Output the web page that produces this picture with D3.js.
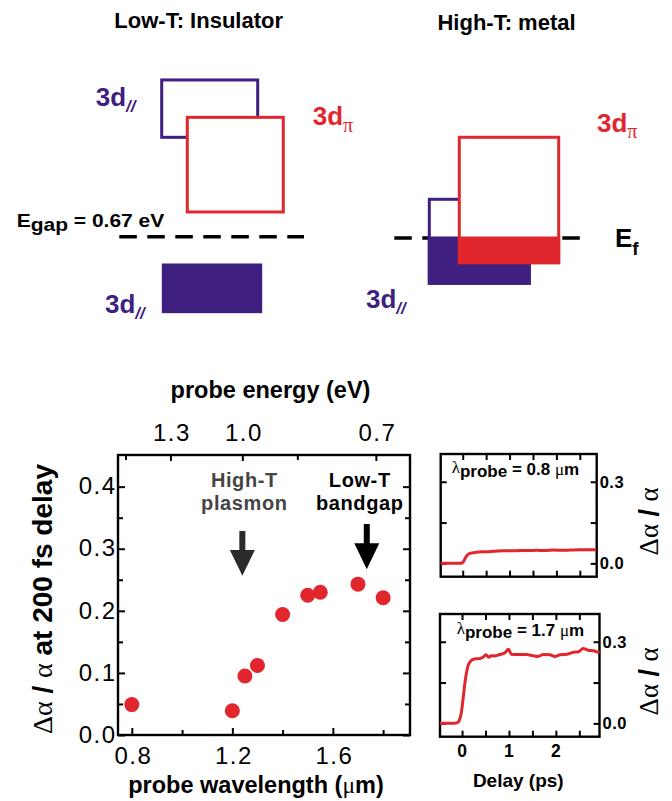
<!DOCTYPE html>
<html><head><meta charset="utf-8">
<script src="https://cdn.jsdelivr.net/npm/d3@7"></script>
<style>
body{margin:0;background:#fff}
svg{display:block}
text{font-family:"Liberation Sans",Arial,Helvetica,sans-serif}
.serif{font-family:"Liberation Serif","Times New Roman",serif;font-weight:normal}
</style>
</head><body>
<svg id="c" width="672" height="801"></svg>
<script>
// ---------------- DATA ----------------
// main scatter: probe wavelength (um) vs Δα/α at 200 fs
const wavelengths = [0.8, 1.2, 1.25, 1.3, 1.4, 1.5, 1.55, 1.7, 1.8];
const dAlpha200fs = [0.049, 0.039, 0.095, 0.112, 0.194, 0.225, 0.230, 0.243, 0.221];
const xTicksMain = [0.8, 1.2, 1.6];
const xMinorMain = [1.0, 1.4, 1.8];
const yTicksMain = [0.0, 0.1, 0.2, 0.3, 0.4];
const yMinorMain = [0.05, 0.15, 0.25, 0.35];
const energyTicks = [1.3, 1.0, 0.7];
const energyMinor = [1.6, 0.85];
// annotation arrows (wavelength, value top, head start, tip)
const arrowLambda = [1.2398, 1.735];
const arrowTop = [0.3285, 0.340];
const arrowHead = [0.298, 0.309];
const arrowTip = [0.2565, 0.267];
const annotLines = [["High-T", "plasmon"], ["Low-T", "bandgap"]];

// insets: delay (ps) vs Δα/α
const delay08 = [-0.47,-0.3,-0.15,-0.04,0.014,0.05,0.10,0.156,0.26,0.51,0.87,1.05,1.23,1.4,1.58,1.76,1.94,2.1,2.3,2.48,2.65,2.85];
const trace08 = [0.000,0.000,0.000,0.000,0.006,0.018,0.031,0.037,0.040,0.043,0.046,0.046,0.047,0.047,0.048,0.047,0.049,0.048,0.049,0.050,0.050,0.050];
const delay17 = [-0.47,-0.2,-0.095,-0.06,-0.02,0.014,0.05,0.085,0.12,0.17,0.26,0.37,0.44,0.51,0.57,0.62,0.69,0.80,0.91,0.99,1.05,1.16,1.37,1.51,1.62,1.73,1.87,1.98,2.09,2.23,2.37,2.48,2.58,2.69,2.80,2.93];
const trace17 = [0.000,0.000,0.003,0.010,0.035,0.078,0.133,0.177,0.207,0.226,0.237,0.238,0.242,0.252,0.243,0.249,0.248,0.253,0.259,0.272,0.254,0.253,0.253,0.249,0.246,0.253,0.252,0.246,0.252,0.254,0.261,0.263,0.275,0.269,0.267,0.259];
const delayTicks = [0, 1, 2];
const delayMinor = [0.5, 1.5, 2.5];
const insetYTicks = [0.0, 0.3];
const insetYMinor = [0.15];

// band diagram energies (eV, relative to reference level)
const lowTBandTop = [1.984, 1.511, -0.358];      // 3d// empty, 3dπ empty, 3d// filled
const lowTBandBottom = [1.258, 0.313, -0.949];
const highTBandTop = [0.49, 1.275];               // 3d//, 3dπ
const highTBandBottom = [-0.573, -0.313];

// ---------------- DRAW ----------------
const RED = "#e1262e", PURPLE = "#3f1f7f";
const svg = d3.select("#c");

// ===== Band diagram =====
svg.append("text").attr("x", 198.7).attr("y", 28.3).attr("text-anchor", "middle")
  .attr("font-weight", "bold").attr("font-size", 22).text("Low-T: Insulator");
svg.append("text").attr("x", 506.5).attr("y", 30).attr("text-anchor", "middle")
  .attr("font-weight", "bold").attr("font-size", 22).text("High-T: metal");

const eL = d3.scaleLinear().domain([0, 1]).range([236.7, 157.7]);
const eR = d3.scaleLinear().domain([0, 1]).range([238, 159]);

// dashed reference lines
svg.append("line").attr("x1", 119.3).attr("x2", 304).attr("y1", eL(0)).attr("y2", eL(0))
  .attr("stroke", "#000").attr("stroke-width", 3.5).attr("stroke-dasharray", "17.5,10.5");
svg.append("line").attr("x1", 394.3).attr("x2", 581).attr("y1", eR(0)).attr("y2", eR(0))
  .attr("stroke", "#000").attr("stroke-width", 3.5).attr("stroke-dasharray", "17.5,10.5");

// low-T bands
const lowX = [[161.7, 257.7], [187.3, 283.3], [163.3, 260.7]];
const lowStyle = [
  {stroke: PURPLE, fill: "#fff"}, {stroke: RED, fill: "#fff"}, {stroke: PURPLE, fill: PURPLE}];
lowTBandTop.forEach((t, i) => {
  svg.append("rect").attr("x", lowX[i][0]).attr("width", lowX[i][1] - lowX[i][0])
    .attr("y", eL(t)).attr("height", eL(lowTBandBottom[i]) - eL(t))
    .attr("fill", lowStyle[i].fill).attr("stroke", lowStyle[i].stroke).attr("stroke-width", 3);
});

// high-T bands (filled below reference level)
const highX = [[429.3, 529.3], [459.3, 558.7]];
const highCol = [PURPLE, RED];
highTBandTop.forEach((t, i) => {
  const x0 = highX[i][0], w = highX[i][1] - highX[i][0];
  svg.append("rect").attr("x", x0).attr("width", w)
    .attr("y", eR(t)).attr("height", eR(highTBandBottom[i]) - eR(t))
    .attr("fill", "#fff").attr("stroke", highCol[i]).attr("stroke-width", 3);
  svg.append("rect").attr("x", x0).attr("width", w)
    .attr("y", eR(0)).attr("height", eR(highTBandBottom[i]) - eR(0))
    .attr("fill", highCol[i]).attr("stroke", highCol[i]).attr("stroke-width", 3);
});

function bandLabel(x, y, color, sub, greek) {
  const t = svg.append("text").attr("x", x).attr("y", y).attr("fill", color)
    .attr("font-weight", "bold").attr("font-size", 26);
  t.append("tspan").text("3d");
  if (greek) t.append("tspan").attr("class", "serif").attr("font-size", 20).attr("dy", 6.5).text(sub);
  else t.append("tspan").attr("font-size", 17).attr("dy", 6).attr("font-style", "italic").text(sub);
}
bandLabel(95.7, 106, PURPLE, "//", false);
bandLabel(312.7, 125, RED, "π", true);
bandLabel(105, 313, PURPLE, "//", false);
bandLabel(597, 131.7, RED, "π", true);
bandLabel(366, 308.3, PURPLE, "//", false);

const ef = svg.append("text").attr("x", 615).attr("y", 246.7).attr("font-weight", "bold").attr("font-size", 26);
ef.append("tspan").text("E");
ef.append("tspan").attr("font-size", 19).attr("dy", 8).text("f");

const eg = svg.append("text").attr("transform", "translate(16.7,227) scale(1.2,1)")
  .attr("font-weight", "bold").attr("font-size", 17.5);
eg.append("tspan").text("E");
eg.append("tspan").attr("dy", 4).text("gap");
eg.append("tspan").attr("dy", -4).text(" = 0.67 eV");

// ===== Main scatter plot =====
const M = {l: 118, r: 410, t: 455, b: 735};
const x = d3.scaleLinear().domain([0.745, 1.907]).range([M.l, M.r]);
const y = d3.scaleLinear().domain([0, 0.451]).range([M.b, M.t]);
const f1 = d3.format(".1f");
const tickFont = g => g.selectAll("text").attr("font-size", 24).attr("fill", "#000")
  .attr("font-family", "'Liberation Sans',Arial,sans-serif").attr("letter-spacing", 1.5);

function styleAxis(g) {
  g.select(".domain").remove();
  g.selectAll("line").attr("stroke", "#000").attr("stroke-width", 2);
}
// bottom
svg.append("g").attr("transform", `translate(0,${M.b})`)
  .call(d3.axisBottom(x).tickValues(xTicksMain).tickSize(-7).tickFormat(f1))
  .call(styleAxis).call(tickFont)
  .call(g => g.selectAll("text").attr("y", 28.5).attr("dy", 0).attr("dx", 1));
svg.append("g").attr("transform", `translate(0,${M.b})`)
  .call(d3.axisBottom(x).tickValues(xMinorMain).tickSize(-5).tickFormat(""))
  .call(styleAxis);
// top (energy)
svg.append("g").attr("transform", `translate(0,${M.t})`)
  .call(d3.axisTop(x).tickValues(energyTicks.map(e => 1.2398 / e)).tickSize(-6)
    .tickFormat(l => f1(1.2398 / l)))
  .call(styleAxis).call(tickFont)
  .call(g => g.selectAll("text").attr("y", -14.3).attr("dy", 0).attr("dx", 1));
svg.append("g").attr("transform", `translate(0,${M.t})`)
  .call(d3.axisTop(x).tickValues(energyMinor.map(e => 1.2398 / e)).tickSize(-5).tickFormat(""))
  .call(styleAxis);
// left
svg.append("g").attr("transform", `translate(${M.l},0)`)
  .call(d3.axisLeft(y).tickValues(yTicksMain).tickSize(-7).tickFormat(f1))
  .call(styleAxis).call(tickFont)
  .call(g => g.selectAll("text").attr("x", -1.5).attr("dy", "0.3em"));
svg.append("g").attr("transform", `translate(${M.l},0)`)
  .call(d3.axisLeft(y).tickValues(yMinorMain).tickSize(-5).tickFormat(""))
  .call(styleAxis);
// right
svg.append("g").attr("transform", `translate(${M.r},0)`)
  .call(d3.axisRight(y).tickValues(yTicksMain).tickSize(-7).tickFormat(""))
  .call(styleAxis);
svg.append("g").attr("transform", `translate(${M.r},0)`)
  .call(d3.axisRight(y).tickValues(yMinorMain).tickSize(-5).tickFormat(""))
  .call(styleAxis);
// frame
svg.append("rect").attr("x", M.l).attr("y", M.t).attr("width", M.r - M.l).attr("height", M.b - M.t)
  .attr("fill", "none").attr("stroke", "#000").attr("stroke-width", 2.4);

// points
svg.append("g").selectAll("circle").data(wavelengths).join("circle")
  .attr("cx", d => x(d)).attr("cy", (d, i) => y(dAlpha200fs[i])).attr("r", 7.5).attr("fill", RED);

// arrows + annotations
const annotColor = ["#444", "#000"];
const annotDx = [2, -7];
arrowLambda.forEach((l, i) => {
  const cx = x(l), yt = y(arrowTop[i]), yh = y(arrowHead[i]), yp = y(arrowTip[i]);
  const sw = 3, hw = 12.5;
  svg.append("path").attr("fill", i === 0 ? "#2b2b2b" : "#000")
    .attr("d", `M${cx - sw},${yt}L${cx + sw},${yt}L${cx + sw},${yh}L${cx + hw},${yh}L${cx},${yp}L${cx - hw},${yh}L${cx - sw},${yh}Z`);
  annotLines[i].forEach((s, j) => {
    svg.append("text").attr("x", cx + annotDx[i]).attr("y", y(j === 0 ? 0.399 : 0.362))
      .attr("text-anchor", "middle").attr("font-weight", "bold").attr("font-size", 20)
      .attr("letter-spacing", 0.6).attr("fill", annotColor[i]).text(s);
  });
});

// axis titles
svg.append("text").attr("x", 270.5).attr("y", 398).attr("text-anchor", "middle")
  .attr("font-weight", "bold").attr("font-size", 23.5).text("probe energy (eV)");
const xl = svg.append("text").attr("x", 256).attr("y", 793).attr("text-anchor", "middle")
  .attr("font-weight", "bold").attr("font-size", 23.5);
xl.append("tspan").text("probe wavelength (");
xl.append("tspan").attr("class", "serif").text("μ");
xl.append("tspan").text("m)");

const yl = svg.append("text").attr("transform", "translate(51.7,599) rotate(-90)")
  .attr("text-anchor", "middle").attr("font-size", 28).attr("font-weight", "bold");
yl.append("tspan").attr("class", "serif").text("Δα");
yl.append("tspan").text(" / ");
yl.append("tspan").attr("class", "serif").text("α");
yl.append("tspan").text(" at 200 fs delay");

// ===== Insets =====
const yInsetDomain = [-0.049, 0.402];
function inset(box, xDomain, delays, trace, lambdaText, lx, lby, showX) {
  const xs = d3.scaleLinear().domain(xDomain).range([box.l, box.r]);
  const ys = d3.scaleLinear().domain(yInsetDomain).range([box.b, box.t]);
  const sides = [
    [d3.axisBottom(xs), `translate(0,${box.b})`, delayTicks.concat(delayMinor)],
    [d3.axisTop(xs), `translate(0,${box.t})`, delayTicks.concat(delayMinor)],
    [d3.axisLeft(ys), `translate(${box.l},0)`, insetYTicks.concat(insetYMinor)],
    [d3.axisRight(ys), `translate(${box.r},0)`, insetYTicks.concat(insetYMinor)]];
  sides.forEach(([a, tr, v]) => {
    svg.append("g").attr("transform", tr)
      .call(a.tickValues(v).tickSize(-6).tickFormat("")).call(styleAxis);
  });
  // right labels
  insetYTicks.forEach(v => {
    svg.append("text").attr("x", box.r + 3).attr("y", ys(v) + 6)
      .attr("font-weight", "bold").attr("font-size", 16.5).attr("letter-spacing", 0.5).text(f1(v));
  });
  if (showX) {
    delayTicks.forEach(v => {
      svg.append("text").attr("x", xs(v)).attr("y", 756.7).attr("text-anchor", "middle")
        .attr("font-weight", "bold").attr("font-size", 17.5).text(v);
    });
  }
  svg.append("rect").attr("x", box.l).attr("y", box.t).attr("width", box.r - box.l)
    .attr("height", box.b - box.t).attr("fill", "none").attr("stroke", "#000").attr("stroke-width", 2.4);
  svg.append("path").datum(delays)
    .attr("d", d3.line().x(d => xs(d)).y((d, i) => ys(trace[i])).curve(d3.curveMonotoneX))
    .attr("fill", "none").attr("stroke", RED).attr("stroke-width", 3).attr("stroke-linejoin", "round");
  // lambda label
  const lt = svg.append("text").attr("x", lx).attr("y", lby).attr("font-size", 17);
  lt.append("tspan").attr("class", "serif").attr("font-size", 17).text("λ");
  lt.append("tspan").attr("font-weight", "bold").attr("dy", 4).text("probe");
  lt.append("tspan").attr("font-weight", "bold").attr("dy", -2.3).text(" = " + lambdaText + " ");
  lt.append("tspan").attr("class", "serif").text("μ");
  lt.append("tspan").attr("font-weight", "bold").text("m");
  // rotated y label
  const r = svg.append("text")
    .attr("transform", `translate(658,${(box.t + box.b) / 2 + 6}) rotate(-90)`)
    .attr("text-anchor", "middle").attr("font-size", 27);
  r.append("tspan").attr("class", "serif").text("Δα");
  r.append("tspan").attr("font-weight", "bold").text(" / ");
  r.append("tspan").attr("class", "serif").text("α");
}
inset({l: 440.7, r: 596.7, t: 454, b: 576.7}, [-0.47, 2.86], delay08, trace08, "0.8", 451.7, 473.3, false);
inset({l: 440, r: 599.5, t: 614, b: 736.7}, [-0.47, 2.93], delay17, trace17, "1.7", 456.7, 634, true);

svg.append("text").attr("x", 518.3).attr("y", 786.7).attr("text-anchor", "middle")
  .attr("font-weight", "bold").attr("font-size", 19).text("Delay (ps)");
</script>
</body></html>
